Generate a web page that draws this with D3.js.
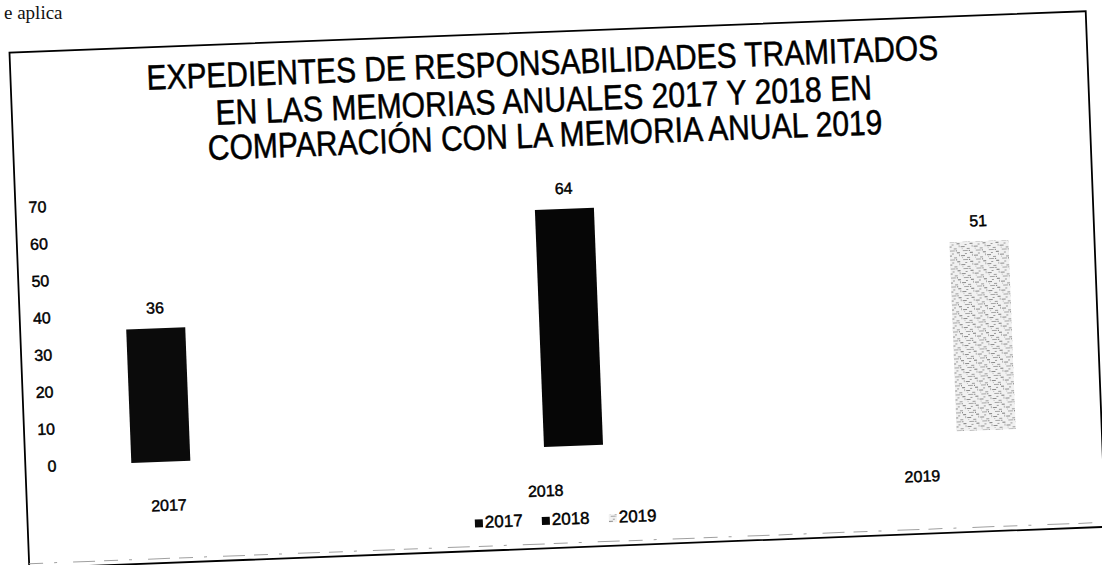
<!DOCTYPE html>
<html>
<head>
<meta charset="utf-8">
<script src="https://cdn.jsdelivr.net/npm/d3@7"></script>
<style>
  html, body { margin: 0; padding: 0; background: #fff; }
  svg { display: block; }
</style>
</head>
<body>
<svg id="chart" width="1102" height="565"></svg>
<script>
// ---- data ----
const titleLines = [
  "EXPEDIENTES DE RESPONSABILIDADES TRAMITADOS",
  "EN LAS MEMORIAS ANUALES 2017 Y 2018 EN",
  "COMPARACIÓN CON LA MEMORIA ANUAL 2019"
];
const categories = ["2017", "2018", "2019"];
const seriesNames = ["2017", "2018", "2019"];
const values = [36, 64, 51];
const yTicks = [0, 10, 20, 30, 40, 50, 60, 70];
const pageFragment = "e aplica";

// ---- styling ----
const FONT = "'Liberation Sans', Arial, Helvetica, sans-serif";
const NARROW = "'Liberation Sans Narrow', 'Arial Narrow', 'Liberation Sans', Arial, sans-serif";
const seriesFill = { "2017": "#0b0b0b", "2018": "#060606", "2019": "url(#speckle)" };

const svg = d3.select("#chart");

// light stippled fill for the 2019 series
const defs = svg.append("defs");
const pat = defs.append("pattern")
  .attr("id", "speckle")
  .attr("patternUnits", "userSpaceOnUse")
  .attr("width", 13).attr("height", 9);
pat.append("rect").attr("width", 13).attr("height", 9).attr("fill", "#f1f1f1");
[[0,1,4,1,"#8a8a8a"],[6,3,3,1,"#9a9a9a"],[2,5,5,1,"#a5a5a5"],[9,7,3,1,"#7a7a7a"],
 [11,0,1,2,"#b0b0b0"],[4,8,2,1,"#9c9c9c"],[8,5,1,1,"#666"],[1,3,1,1,"#bbb"]]
  .forEach(([x, y, w, h, c]) => pat.append("rect")
    .attr("x", x).attr("y", y).attr("width", w).attr("height", h).attr("fill", c));

// fragment of the surrounding document text at the top edge
svg.append("text")
  .attr("x", 4).attr("y", 19)
  .attr("font-family", "'Liberation Serif', 'DejaVu Serif', serif")
  .attr("font-size", 19)
  .attr("fill", "#111")
  .text(pageFragment);

// the whole chart sits slightly tilted on the page
const page = svg.append("g").attr("transform", "rotate(-2.2 550 290)");

// frame
page.append("rect")
  .attr("x", 19).attr("y", 32)
  .attr("width", 1077).attr("height", 516)
  .attr("fill", "none")
  .attr("stroke", "#000")
  .attr("stroke-width", 1.8);

page.append("line")
  .attr("x1", 19).attr("x2", 1096)
  .attr("y1", 543.5).attr("y2", 543.5)
  .attr("stroke", "#a0a0a0")
  .attr("stroke-width", 1)
  .attr("stroke-dasharray", "14 11 3 16 22 9");

// title
const titleWidths = [792, 657, 675];
const titleBase = [74.5, 112, 147];
page.append("g").selectAll("text")
  .data(titleLines)
  .join("text")
  .attr("x", 551)
  .attr("y", (d, i) => titleBase[i])
  .attr("text-anchor", "middle")
  .attr("font-family", NARROW)
  .attr("font-size", 35)
  .attr("fill", "#000")
  .attr("stroke", "#000")
  .attr("stroke-width", 0.5)
  .attr("textLength", (d, i) => titleWidths[i])
  .attr("lengthAdjust", "spacingAndGlyphs")
  .text(d => d);

// scales
const x = d3.scaleBand()
  .domain(categories)
  .range([125, 1010])
  .paddingInner(0.857)
  .paddingOuter(0);

const y = d3.scaleLinear()
  .domain([0, 70])
  .range([446.7, 187.3]);

const labelX = d3.scalePoint()
  .domain(categories)
  .range([161, 915]);

// shared look for the small labels
const smallText = sel => sel
  .attr("font-family", FONT)
  .attr("font-size", 16)
  .attr("fill", "#000")
  .attr("stroke", "#000")
  .attr("stroke-width", 0.45);

// value axis: labels only
const yAxis = page.append("g")
  .attr("transform", "translate(50,0)")
  .call(d3.axisLeft(y).tickValues(yTicks).tickSize(0).tickPadding(0));
yAxis.select(".domain").remove();
yAxis.selectAll("text").call(smallText);

// bars
const bars = categories.map((c, i) => ({ cat: c, series: seriesNames[i], value: values[i] }));

page.append("g").selectAll("rect")
  .data(bars)
  .join("rect")
  .attr("x", d => x(d.cat))
  .attr("y", d => y(d.value))
  .attr("width", x.bandwidth())
  .attr("height", d => y(0) - y(d.value))
  .attr("fill", d => seriesFill[d.series]);

// value labels
page.append("g").selectAll("text")
  .data(bars)
  .join("text")
  .attr("x", d => x(d.cat) + x.bandwidth() / 2)
  .attr("y", d => y(d.value) - 15)
  .attr("text-anchor", "middle")
  .call(smallText)
  .text(d => d.value);

// category labels
page.append("g").selectAll("text")
  .data(categories)
  .join("text")
  .attr("x", d => labelX(d))
  .attr("y", 496)
  .attr("text-anchor", "middle")
  .call(smallText)
  .text(d => d);

// legend
const legend = page.append("g").selectAll("g")
  .data(seriesNames)
  .join("g")
  .attr("transform", (d, i) => `translate(${466 + i * 67},0)`);
legend.append("rect")
  .attr("x", 0).attr("y", 516.5)
  .attr("width", 8).attr("height", 8)
  .attr("fill", d => seriesFill[d]);
legend.append("text")
  .attr("x", 10).attr("y", 525)
  .call(smallText)
  .attr("font-size", 17)
  .text(d => d);
</script>
</body>
</html>
